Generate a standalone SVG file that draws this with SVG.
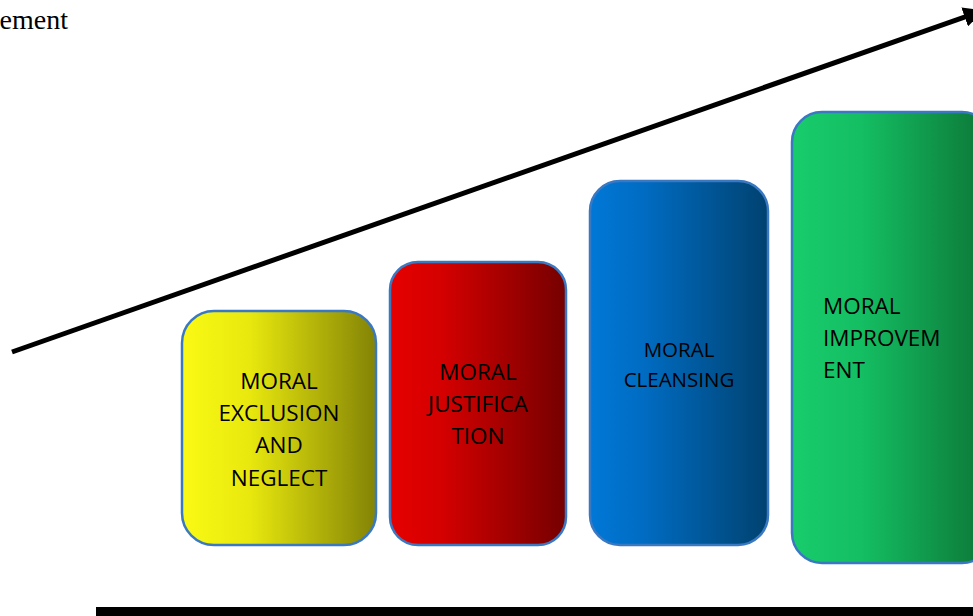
<svg xmlns="http://www.w3.org/2000/svg" width="973" height="616" viewBox="0 0 973 616">
<style>
.box{stroke:#3b78c2;stroke-width:2.5}
.t{font-family:"Open Sans","Liberation Sans",sans-serif;font-size:22.5px;fill:#000}
.t.s{font-size:20.5px}
</style>
<defs>
<linearGradient id="gy" x1="0" x2="1" y1="0" y2="0"><stop offset="0" stop-color="#fafa14"/><stop offset="0.35" stop-color="#e8e80e"/><stop offset="1" stop-color="#838306"/></linearGradient>
<linearGradient id="gr" x1="0" x2="1" y1="0" y2="0"><stop offset="0" stop-color="#e60000"/><stop offset="0.3" stop-color="#d40000"/><stop offset="1" stop-color="#750000"/></linearGradient>
<linearGradient id="gb" x1="0" x2="1" y1="0" y2="0"><stop offset="0" stop-color="#0078d7"/><stop offset="0.3" stop-color="#006cc2"/><stop offset="1" stop-color="#004270"/></linearGradient>
<linearGradient id="gg" x1="0" x2="1" y1="0" y2="0"><stop offset="0" stop-color="#18cc6c"/><stop offset="0.35" stop-color="#14be62"/><stop offset="1" stop-color="#0c7436"/></linearGradient>
<marker id="ah" viewBox="0 0 10 10" refX="6" refY="5" markerWidth="4" markerHeight="4" orient="auto" markerUnits="strokeWidth"><path d="M0,0 L10,5 L0,10 z" fill="#000"/></marker>
</defs>
<text x="68" y="29" text-anchor="end" font-family="Liberation Serif,serif" font-size="28">ement</text>
<g id="connectors">
<line x1="12" y1="352" x2="976" y2="13" stroke="#000" stroke-width="5" marker-end="url(#ah)"/>
<rect x="96" y="607" width="877" height="9" fill="#000"/>
</g>
<g id="n1">
<rect class="box" x="182" y="311" width="194" height="234" rx="32" fill="url(#gy)"/>
<text class="t" text-anchor="middle"><tspan x="279" y="389">MORAL</tspan><tspan x="279" y="421">EXCLUSION</tspan><tspan x="279" y="453">AND</tspan><tspan x="279" y="486">NEGLECT</tspan></text>
</g>
<g id="n2">
<rect class="box" x="390" y="262" width="176" height="283" rx="28" fill="url(#gr)"/>
<text class="t" text-anchor="middle"><tspan x="478" y="380">MORAL</tspan><tspan x="478" y="412">JUSTIFICA</tspan><tspan x="478" y="444">TION</tspan></text>
</g>
<g id="n3">
<rect class="box" x="590" y="181" width="178" height="364" rx="30" fill="url(#gb)"/>
<text class="t s" text-anchor="middle"><tspan x="679" y="357">MORAL</tspan><tspan x="679" y="387">CLEANSING</tspan></text>
</g>
<g id="n4">
<rect class="box" x="792" y="112" width="200" height="451" rx="30" fill="url(#gg)"/>
<text class="t"><tspan x="823" y="314">MORAL</tspan><tspan x="823" y="346">IMPROVEM</tspan><tspan x="823" y="378">ENT</tspan></text>
</g>
</svg>
